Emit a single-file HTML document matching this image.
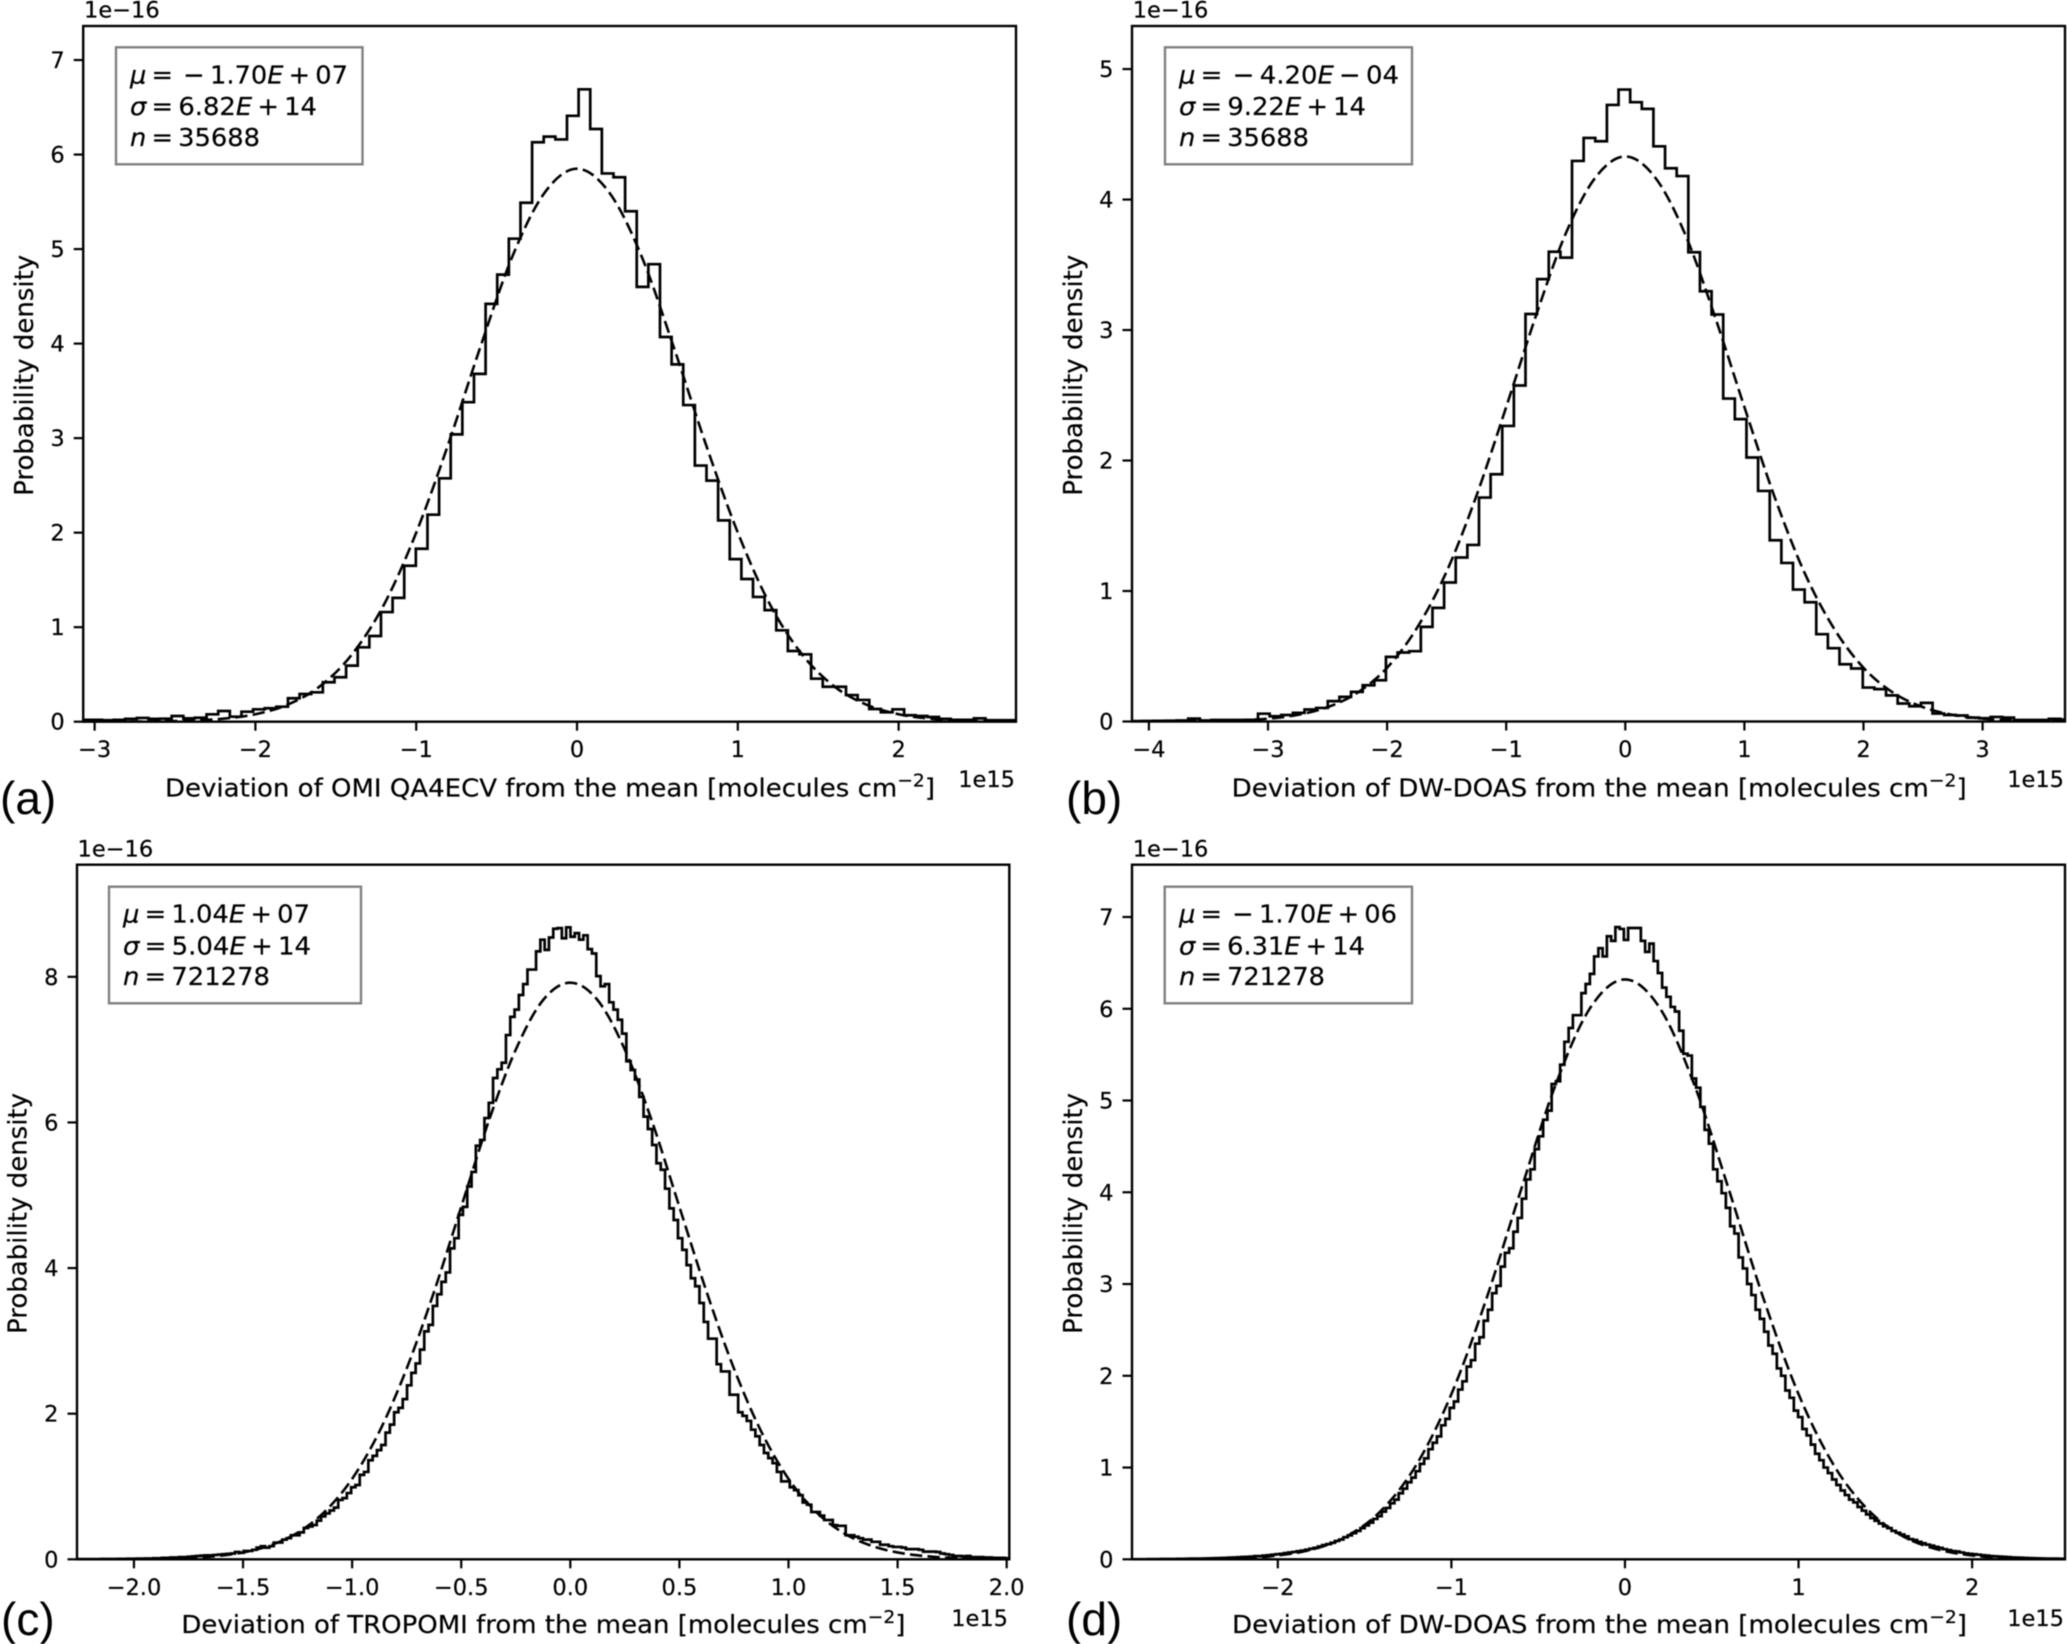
<!DOCTYPE html>
<html lang="en">
<head>
<meta charset="utf-8">
<title>Deviation from the mean histograms</title>
<style>
html,body{margin:0;padding:0;background:#fff;width:2067px;height:1644px;overflow:hidden}
svg{display:block;filter:blur(.4px)}
text{font-family:"DejaVu Sans","Liberation Sans",sans-serif;fill:#000;stroke:#000;stroke-width:.2px}
</style>
</head>
<body>
<svg id="figure" xmlns="http://www.w3.org/2000/svg" width="2067" height="1644" viewBox="0 0 2067 1644"></svg>
<script>
/* ---------- panel (a) data ---------- */
const aBinStart = -3.099;
const aBinWidth = 0.0723;
const aDensity = [.02,.02,.015,.02,.03,.04,.03,.032,.06,.036,.042,.078,.113,.053,.106,.131,.142,.159,.248,.293,.311,.417,.47,.593,.787,.907,1.16,1.31,1.65,1.83,2.19,2.575,
3.04,3.38,3.68,4.42,4.73,5.11,5.49,6.13,6.19,6.16,6.41,6.69,6.27,5.80,5.76,5.40,4.60,4.84,4.07,3.78,3.35,
2.71,2.55,2.13,1.72,1.51,1.32,1.18,.967,.748,.713,.455,.37,.37,.282,.23,.134,.10,.131,.068,.06,.05,.03,.02,.02,.035,.015,.015,.015];
const aFitX = [-3.0,-2.8,-2.6,-2.4,-2.2,-2.0,-1.8,-1.6,-1.4,-1.2,-1.0,-0.8,-0.6,-0.4,-0.2,0,0.2,0.4,0.6,0.8,1.0,1.2,1.4,1.6,1.8,2.0,2.2,2.4,2.6,2.8,3.0];
const aFitY = [0,.001,.004,.012,.032,.079,.18,.373,.711,1.24,2.0,2.94,3.97,4.93,5.60,5.85,5.60,4.93,3.97,2.94,2.0,1.24,.711,.373,.18,.079,.032,.012,.004,.001,0];
const aXTicks = [-3,-2,-1,0,1,2];
const aXTickLabels = ['−3','−2','−1','0','1','2'];
const aYTicks = [0,1,2,3,4,5,6,7];
const aYTickLabels = ['0','1','2','3','4','5','6','7'];
const aXLim = [-3.071,2.73];
const aYLim = [0,7.36];
const aStats = [['μ','\u2009=\u2009\u2009−\u20091.70','E','\u2009+\u200907'],['σ','\u2009=\u20096.82','E','\u2009+\u200914'],['n','\u2009=\u200935688','','']];

/* ---------- panel (b) data ---------- */
const bBinStart = -4.158;
const bBinWidth = 0.09765;
const bDensity = [.003,.004,.005,.006,.008,.022,.008,.012,.012,.012,.013,.06,.04,.05,.066,.092,.104,.156,.189,.227,.278,.316,.495,.529,.539,.725,.871,1.065,1.257,1.353,1.716,1.895,
2.265,2.575,3.123,3.39,3.60,3.555,4.296,4.472,4.447,4.725,4.843,4.746,4.695,4.408,4.24,4.18,3.596,3.297,3.119,2.475,2.317,
2.023,1.767,1.389,1.215,1.011,.914,.669,.562,.439,.406,.26,.248,.20,.138,.117,.143,.061,.05,.046,.03,.025,.035,.03,.012,.012,.012,.02,.015];
const bFitX = [-4,-3.75,-3.5,-3.25,-3,-2.75,-2.5,-2.25,-2,-1.75,-1.5,-1.25,-1,-.75,-.5,-.25,0,.25,.5,.75,1,1.25,1.5,1.75,2,2.25,2.5,2.75,3,3.25,3.5,3.75,4];
const bFitY = [0,.001,.003,.009,.022,.051,.11,.22,.412,.716,1.15,1.73,2.41,3.11,3.74,4.17,4.33,4.17,3.74,3.11,2.41,1.73,1.15,.716,.412,.22,.11,.051,.022,.009,.003,.001,0];
const bXTicks = [-4,-3,-2,-1,0,1,2,3];
const bXTickLabels = ['−4','−3','−2','−1','0','1','2','3'];
const bYTicks = [0,1,2,3,4,5];
const bYTickLabels = ['0','1','2','3','4','5'];
const bXLim = [-4.142,3.692];
const bYLim = [0,5.33];
const bStats = [['μ','\u2009=\u2009\u2009−\u20094.20','E','\u2009−\u200904'],['σ','\u2009=\u20099.22','E','\u2009+\u200914'],['n','\u2009=\u200935688','','']];

/* ---------- panel (c) data ---------- */
const cBinStart = -2.266;
const cBinWidth = 0.01971;
const cDensity = [.002,.002,.002,.002,.003,.003,.004,.004,.005,.005,.006,.006,.008,.008,.01,.01,.012,.012,.015,.015,
.02,.02,.025,.025,.03,.03,.035,.04,.045,.05,
.055,.055,.06,.065,.07,.075,.08,.10,.09,.115,
.115,.13,.16,.18,.16,.18,.23,.23,.27,.29,
.33,.33,.37,.43,.45,.47,.53,.59,.63,.67,
.71,.815,.84,.91,.99,1.02,1.16,1.20,1.36,1.42,
1.50,1.57,1.74,1.85,2.02,2.08,2.20,2.39,2.56,2.69,
2.88,3.13,3.22,3.48,3.64,3.81,3.94,
4.27,4.41,4.73,4.84,5.12,5.32,5.68,5.76,6.06,6.27,6.61,6.73,6.82,7.20,7.45,7.55,7.75,7.90,8.10,8.10,8.35,8.51,8.37,8.54,8.66,8.67,8.53,8.68,
8.55,8.60,8.51,8.57,8.38,8.32,8.01,7.87,7.90,7.65,7.55,7.41,7.22,6.84,6.72,6.59,6.35,6.08,5.91,5.69,5.44,5.35,5.09,4.82,4.66,4.41,4.25,4.04,
3.86,3.75,3.52,3.26,3.03,3.03,2.68,2.58,2.58,2.26,2.26,2.02,1.97,1.90,1.78,1.69,1.57,1.46,1.39,1.32,1.20,1.07,1.07,.99,.95,.88,.78,.75,.65,.65,.60,.54,.54,.47,.46,.46,.33,.33,.31,.29,.27,.27,.24,.24,.20,.20,.18,.17,.17,.16,.14,.14,.14,.13,.105,.105,.105,.10,.08,.07,.06,.045,.045,.04,.045,.03,.03,.03,.025,.025,.02,.02,.02,.015,.015];
const cFitX = [-2.25,-2.125,-2,-1.875,-1.75,-1.625,-1.5,-1.375,-1.25,-1.125,-1,-.875,-.75,-.625,-.5,-.375,-.25,-.125,0,.125,.25,.375,.5,.625,.75,.875,1,1.125,1.25,1.375,1.5,1.625,1.75,1.875,2,2.125,2.25];
const cFitY = [0,.001,.003,.008,.019,.044,.094,.191,.365,.656,1.105,1.755,2.62,3.67,4.84,6.01,7.0,7.68,7.92,7.68,7.0,6.01,4.84,3.67,2.62,1.755,1.105,.656,.365,.191,.094,.044,.019,.008,.003,.001,0];
const cXTicks = [-2,-1.5,-1,-.5,0,.5,1,1.5,2];
const cXTickLabels = ['−2.0','−1.5','−1.0','−0.5','0.0','0.5','1.0','1.5','2.0'];
const cYTicks = [0,2,4,6,8];
const cYTickLabels = ['0','2','4','6','8'];
const cXLim = [-2.261,2.012];
const cYLim = [0,9.54];
const cStats = [['μ','\u2009=\u20091.04','E','\u2009+\u200907'],['σ','\u2009=\u20095.04','E','\u2009+\u200914'],['n','\u2009=\u2009721278','','']];

/* ---------- panel (d) data ---------- */
const dBinStart = -2.846;
const dBinWidth = 0.02448;
const dDensity = [.001,.001,.001,.001,.002,.002,.002,.003,.003,.004,.004,.005,.005,.006,.007,.007,.008,.009,.01,.012,.013,.014,.016,.018,.02,.022,.025,.027,.03,.035,.035,.04,.045,.05,.055,.06,.068,.075,.08,.088,
.095,.105,.115,.125,.14,.155,.165,.18,.20,.215,.24,.26,.285,.31,.34,.37,.40,.44,.47,.52,.56,.61,.65,.72,.77,.84,.89,.96,1.04,1.10,
1.20,1.27,1.34,1.46,1.53,1.65,1.72,1.85,1.94,2.10,2.17,2.35,2.42,2.60,2.72,2.90,2.98,
3.19,3.34,3.39,3.57,3.72,3.93,4.14,4.25,4.47,4.61,4.79,4.89,5.18,5.21,5.39,5.64,5.79,5.93,5.93,6.17,6.27,6.38,6.57,6.66,6.57,6.79,6.74,6.89,6.87,6.75,6.88,6.88,6.88,6.74,6.62,6.71,6.52,6.39,6.23,6.13,6.02,5.97,5.76,5.51,5.49,5.24,5.14,4.93,4.68,4.53,4.25,4.12,3.99,3.83,3.63,3.55,3.29,3.17,
3.00,2.88,2.72,2.62,2.48,2.33,2.24,2.08,2.00,1.84,1.76,1.62,1.55,1.42,1.35,1.25,1.15,1.08,1.00,.94,.87,.81,.75,.70,.65,.62,.57,.53,.49,.45,.42,.39,.36,.34,.31,.29,.27,.25,.22,.21,.19,.175,.16,.15,.135,.125,.11,.10,.09,.085,.075,.065,.06,.055,.05,.045,.04,.035,.032,.03,.027,.024,.02,.019,.017,.015,.013,.012,.01,.009,.008,.008,.007,.006,.005,.005];
const dFitX = [-2.8,-2.6,-2.4,-2.2,-2,-1.8,-1.6,-1.4,-1.2,-1,-.8,-.6,-.4,-.2,0,.2,.4,.6,.8,1,1.2,1.4,1.6,1.8,2,2.2,2.4,2.6,2.8];
const dFitY = [0,.001,.005,.014,.042,.108,.253,.539,1.035,1.80,2.83,4.02,5.17,6.01,6.32,6.01,5.17,4.02,2.83,1.80,1.035,.539,.253,.108,.042,.014,.005,.001,0];
const dXTicks = [-2,-1,0,1,2];
const dXTickLabels = ['−2','−1','0','1','2'];
const dYTicks = [0,1,2,3,4,5,6,7];
const dYTickLabels = ['0','1','2','3','4','5','6','7'];
const dXLim = [-2.84,2.535];
const dYLim = [0,7.57];
const dStats = [['μ','\u2009=\u2009\u2009−\u20091.70','E','\u2009+\u200906'],['σ','\u2009=\u20096.31','E','\u2009+\u200914'],['n','\u2009=\u2009721278','','']];

/* ---------- layout ---------- */
const NS = 'http://www.w3.org/2000/svg';
const root = document.getElementById('figure');

const panels = [
 {id:'a',tag:'(a)',xlabel:'Deviation of OMI QA4ECV from the mean [molecules cm',density:aDensity,binStart:aBinStart,binWidth:aBinWidth,fitX:aFitX,fitY:aFitY,xTicks:aXTicks,xTickLabels:aXTickLabels,yTicks:aYTicks,yTickLabels:aYTickLabels,xLim:aXLim,yLim:aYLim,stats:aStats,
  box:{l:83.2,r:1016,t:26,b:721.7},stat:{x:116,y:47.3,w:246.5,h:117,tx:130,base:[83.5,115,146],len:[218,187,130]},
  xl:{x:165,y:796.7,len:770},yl:{x:33},tickBase:757,offX:{x:1015,y:787},offY:{x:84,y:17.3},tagPos:{x:0,y:814}},
 {id:'b',tag:'(b)',xlabel:'Deviation of DW-DOAS from the mean [molecules cm',density:bDensity,binStart:bBinStart,binWidth:bBinWidth,fitX:bFitX,fitY:bFitY,xTicks:bXTicks,xTickLabels:bXTickLabels,yTicks:bYTicks,yTickLabels:bYTickLabels,xLim:bXLim,yLim:bYLim,stats:bStats,
  box:{l:1132,r:2065,t:26,b:721.5},stat:{x:1165,y:47.3,w:247,h:117,tx:1179,base:[83.5,115,146],len:[220,187,130]},
  xl:{x:1231.7,y:796.7,len:735},yl:{x:1082},tickBase:757,offX:{x:2064,y:787},offY:{x:1132.7,y:17.3},tagPos:{x:1066,y:814}},
 {id:'c',tag:'(c)',xlabel:'Deviation of TROPOMI from the mean [molecules cm',density:cDensity,binStart:cBinStart,binWidth:cBinWidth,fitX:cFitX,fitY:cFitY,xTicks:cXTicks,xTickLabels:cXTickLabels,yTicks:cYTicks,yTickLabels:cYTickLabels,xLim:cXLim,yLim:cYLim,stats:cStats,
  box:{l:77,r:1009.3,t:864.7,b:1559.3},stat:{x:109,y:886.7,w:252,h:116.6,tx:123,base:[922.3,954.3,985],len:[187,188,147]},
  xl:{x:181.4,y:1633,len:724},yl:{x:26.5},tickBase:1595,offX:{x:1008,y:1626},offY:{x:77.5,y:856.7},tagPos:{x:1,y:1635}},
 {id:'d',tag:'(d)',xlabel:'Deviation of DW-DOAS from the mean [molecules cm',density:dDensity,binStart:dBinStart,binWidth:dBinWidth,fitX:dFitX,fitY:dFitY,xTicks:dXTicks,xTickLabels:dXTickLabels,yTicks:dYTicks,yTickLabels:dYTickLabels,xLim:dXLim,yLim:dYLim,stats:dStats,
  box:{l:1132,r:2065,t:864.7,b:1559.3},stat:{x:1164.7,y:886.7,w:247.3,h:116.6,tx:1179,base:[922.3,954.3,985],len:[218,186,146]},
  xl:{x:1232,y:1633,len:735},yl:{x:1082},tickBase:1595,offX:{x:2064,y:1626},offY:{x:1132.7,y:856.7},tagPos:{x:1066,y:1635}}
];

function svgEl(tag, attrs, parent){
  const el = document.createElementNS(NS, tag);
  for (const k in attrs) el.setAttribute(k, attrs[k]);
  parent.appendChild(el);
  return el;
}
function linearScale(domain, range){
  return v => range[0] + (v - domain[0]) / (domain[1] - domain[0]) * (range[1] - range[0]);
}
function stepPath(values, start, width, xAt, yAt){
  let d = 'M' + xAt(start).toFixed(2) + ' ' + yAt(0).toFixed(2);
  values.forEach((v, i) => {
    const x0 = xAt(start + i * width).toFixed(2);
    const x1 = xAt(start + (i + 1) * width).toFixed(2);
    const y = yAt(v).toFixed(2);
    d += 'L' + x0 + ' ' + y + 'L' + x1 + ' ' + y;
  });
  d += 'L' + xAt(start + values.length * width).toFixed(2) + ' ' + yAt(0).toFixed(2);
  return d;
}
function smoothPath(xs, ys, xAt, yAt){
  const p = xs.map((x, i) => [xAt(x), yAt(ys[i])]);
  let d = 'M' + p[0][0].toFixed(2) + ' ' + p[0][1].toFixed(2);
  for (let i = 0; i < p.length - 1; i++){
    const a = p[Math.max(i - 1, 0)], b = p[i], c = p[i + 1], e = p[Math.min(i + 2, p.length - 1)];
    d += 'C' + (b[0] + (c[0] - a[0]) / 6).toFixed(2) + ' ' + (b[1] + (c[1] - a[1]) / 6).toFixed(2) + ' ' +
         (c[0] - (e[0] - b[0]) / 6).toFixed(2) + ' ' + (c[1] - (e[1] - b[1]) / 6).toFixed(2) + ' ' +
         c[0].toFixed(2) + ' ' + c[1].toFixed(2);
  }
  return d;
}

panels.forEach(p => {
  const B = p.box;
  const xAt = linearScale(p.xLim, [B.l, B.r]);
  const yAt = linearScale(p.yLim, [B.b, B.t]);

  const group = svgEl('g', {}, root);
  
  

  const clip = svgEl('clipPath', {id: 'clip-' + p.id}, group);
  svgEl('rect', {x: B.l, y: B.t, width: B.r - B.l, height: B.b - B.t}, clip);

  const hist = svgEl('path', {d: stepPath(p.density, p.binStart, p.binWidth, xAt, yAt), fill: 'none', stroke: '#000', 'stroke-width': 2.7, 'stroke-linejoin': 'miter', 'clip-path': 'url(#clip-' + p.id + ')'}, group);
  
  

  const fit = svgEl('path', {d: smoothPath(p.fitX, p.fitY, xAt, yAt), fill: 'none', stroke: '#000', 'stroke-width': 2.6, 'stroke-dasharray': '12.3 5.3', 'clip-path': 'url(#clip-' + p.id + ')'}, group);
  
  

  const frame = svgEl('rect', {x: B.l, y: B.t, width: B.r - B.l, height: B.b - B.t, fill: 'none', stroke: '#000', 'stroke-width': 2.4}, group);
  
  

  p.xTicks.forEach((v, i) => {
    const x = xAt(v);
    const tick = svgEl('line', {x1: x, x2: x, y1: B.b, y2: B.b + 9, stroke: '#000', 'stroke-width': 2.2}, group);
    
    
    const label = svgEl('text', {x: x, y: p.tickBase, 'text-anchor': 'middle', 'font-size': 22.5}, group);
    
    
    label.textContent = p.xTickLabels[i];
  });

  p.yTicks.forEach((v, i) => {
    const y = yAt(v);
    const tick = svgEl('line', {x1: B.l - 9.5, x2: B.l, y1: y, y2: y, stroke: '#000', 'stroke-width': 2.2}, group);
    
    
    const label = svgEl('text', {x: B.l - 18.5, y: y + 8, 'text-anchor': 'end', 'font-size': 22.5}, group);
    
    
    label.textContent = p.yTickLabels[i];
  });

  const xTitle = svgEl('text', {x: p.xl.x, y: p.xl.y, 'font-size': 25, textLength: p.xl.len, lengthAdjust: 'spacingAndGlyphs'}, group);
  
  
  xTitle.appendChild(document.createTextNode(p.xlabel));
  const sup = svgEl('tspan', {dy: -10, 'font-size': 18}, xTitle);
  sup.textContent = '−2';
  const close = svgEl('tspan', {dy: 10}, xTitle);
  close.textContent = ']';

  const yTitle = svgEl('text', {transform: 'translate(' + p.yl.x + ' ' + ((B.t + B.b) / 2 + 1.5) + ') rotate(-90)', 'text-anchor': 'middle', 'font-size': 26}, group);
  
  
  yTitle.textContent = 'Probability density';

  const offsetX = svgEl('text', {x: p.offX.x, y: p.offX.y, 'text-anchor': 'end', 'font-size': 22.5}, group);
  
  
  offsetX.textContent = '1e15';

  const offsetY = svgEl('text', {x: p.offY.x, y: p.offY.y, 'font-size': 22.5}, group);
  
  
  offsetY.textContent = '1e−16';

  const S = p.stat;
  const statBox = svgEl('rect', {x: S.x, y: S.y, width: S.w, height: S.h, fill: '#fff', stroke: '#808080', 'stroke-width': 2.4}, group);
  
  

  p.stats.forEach((parts, i) => {
    const line = svgEl('text', {x: S.tx, y: S.base[i], 'font-size': 25, textLength: S.len[i], lengthAdjust: 'spacingAndGlyphs'}, group);
    
    
    const sym = svgEl('tspan', {'font-style': 'italic'}, line);
    sym.textContent = parts[0];
    line.appendChild(document.createTextNode(parts[1]));
    if (parts[2]) {
      const e = svgEl('tspan', {'font-style': 'italic'}, line);
      e.textContent = parts[2];
      line.appendChild(document.createTextNode(parts[3]));
    }
  });

  const tag = svgEl('text', {x: p.tagPos.x, y: p.tagPos.y, 'font-size': 46, style: 'font-family:"Liberation Sans",sans-serif;stroke:none'}, group);
  
  
  tag.textContent = p.tag;
});
</script>
</body>
</html>
